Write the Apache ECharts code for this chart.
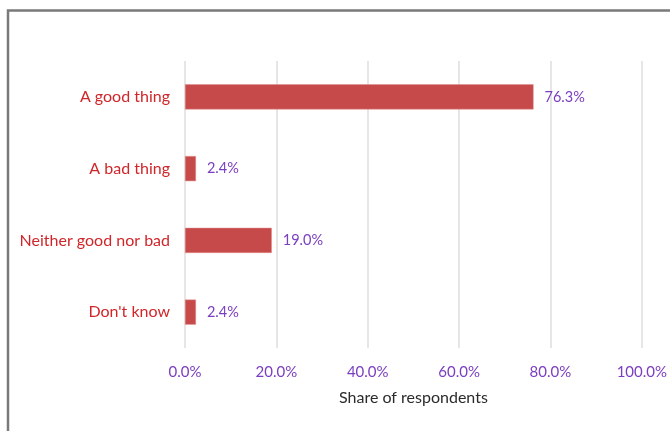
<!DOCTYPE html>
<html>
<head>
<meta charset="utf-8">
<script src="https://cdn.jsdelivr.net/npm/echarts@6/dist/echarts.min.js"></script>
<style>
  html, body { margin: 0; padding: 0; background: #ffffff; }
  #chart { width: 670px; height: 431px; }
</style>
</head>
<body>
<div id="chart"></div>
<script>
// Survey answers, top to bottom
const categories = ['A good thing', 'A bad thing', 'Neither good nor bad', "Don't know"];
// Share of respondents (%)
const shares = [76.3, 2.4, 19.0, 2.4];
// X-axis ticks (%)
const xTicks = [0, 20, 40, 60, 80, 100];

const FONT = 'Lato, "Open Sans", sans-serif';

const chart = echarts.init(document.getElementById('chart'), null, { renderer: 'canvas' });

chart.setOption({
  backgroundColor: '#ffffff',
  animation: false,
  graphic: [{
    type: 'rect',
    shape: { x: 8, y: 10.5, width: 700, height: 460 },
    style: { fill: 'none', stroke: '#7a7a7a', lineWidth: 2.5 },
    silent: true,
    z: 0
  }],
  grid: { left: 185, right: 24, top: 61, bottom: 83, containLabel: false },
  xAxis: {
    type: 'value',
    min: xTicks[0],
    max: xTicks[xTicks.length - 1],
    interval: xTicks[1] - xTicks[0],
    name: 'Share of respondents',
    nameLocation: 'middle',
    nameGap: 42,
    nameTextStyle: { color: '#2b2b2b', fontSize: 16, fontFamily: FONT },
    axisLine: { show: false },
    axisTick: { show: false },
    axisLabel: {
      color: '#7a3fc0',
      fontSize: 15,
      fontFamily: FONT,
      margin: 17,
      formatter: v => v.toFixed(1) + '%'
    },
    splitLine: { show: true, lineStyle: { color: '#dedede', width: 1.5 } }
  },
  yAxis: {
    type: 'category',
    data: categories,
    inverse: true,
    axisLine: { show: false },
    axisTick: { show: false },
    axisLabel: {
      color: '#d0262a',
      fontSize: 16,
      fontFamily: FONT,
      margin: 15
    }
  },
  series: [{
    type: 'bar',
    data: shares,
    barWidth: '35%',
    itemStyle: { color: '#c64a4a', borderColor: '#e58a8a', borderWidth: 0.5 },
    label: {
      show: true,
      position: 'right',
      distance: 11,
      color: '#7a3fc0',
      fontSize: 14.5,
      fontFamily: FONT,
      formatter: p => p.value.toFixed(1) + '%'
    }
  }]
});
</script>
</body>
</html>
